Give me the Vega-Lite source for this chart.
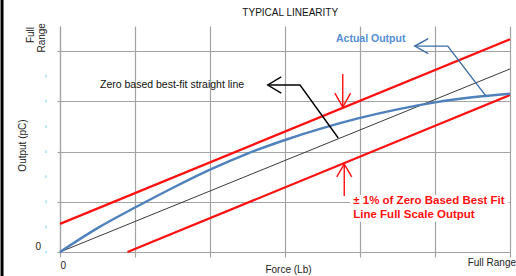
{
  "$schema": "https://vega.github.io/schema/vega-lite/v6.json",
  "width": 450,
  "height": 226,
  "autosize": "none",
  "padding": {"left": 60, "top": 26, "right": 6, "bottom": 24},
  "background": "white",
  "config": {"view": {"stroke": null}, "font": "Liberation Sans"},
  "datasets": {
    "lines": [
      {"series": "upper", "x": 0, "y": 1.12},
      {"series": "upper", "x": 6, "y": 8.47},
      {"series": "lower", "x": 0.9, "y": 0},
      {"series": "lower", "x": 6, "y": 6.25},
      {"series": "zero", "x": 0, "y": 0},
      {"series": "zero", "x": 6, "y": 7.29},
      {"series": "actual", "x": 0, "y": 0},
      {"series": "actual", "x": 0.5, "y": 0.95},
      {"series": "actual", "x": 1, "y": 1.77},
      {"series": "actual", "x": 1.5, "y": 2.55},
      {"series": "actual", "x": 2, "y": 3.28},
      {"series": "actual", "x": 2.5, "y": 3.92},
      {"series": "actual", "x": 3, "y": 4.46},
      {"series": "actual", "x": 3.5, "y": 4.93},
      {"series": "actual", "x": 4, "y": 5.34},
      {"series": "actual", "x": 4.5, "y": 5.68},
      {"series": "actual", "x": 5, "y": 5.96},
      {"series": "actual", "x": 5.5, "y": 6.16},
      {"series": "actual", "x": 6, "y": 6.3}
    ],
    "arrows": [
      {"arrow": "zero", "seg": "z1", "o": 1, "x": 2.77, "y": 6.65},
      {"arrow": "zero", "seg": "z1", "o": 2, "x": 3.2, "y": 6.65},
      {"arrow": "zero", "seg": "z1", "o": 3, "x": 3.71, "y": 4.54},
      {"arrow": "zero", "seg": "z2", "o": 1, "x": 2.95, "y": 6.97},
      {"arrow": "zero", "seg": "z2", "o": 2, "x": 2.77, "y": 6.65},
      {"arrow": "zero", "seg": "z2", "o": 3, "x": 2.95, "y": 6.33},
      {"arrow": "actual", "seg": "a1", "o": 1, "x": 4.73, "y": 8.2},
      {"arrow": "actual", "seg": "a1", "o": 2, "x": 5.17, "y": 8.2},
      {"arrow": "actual", "seg": "a1", "o": 3, "x": 5.68, "y": 6.21},
      {"arrow": "actual", "seg": "a2", "o": 1, "x": 4.91, "y": 8.5},
      {"arrow": "actual", "seg": "a2", "o": 2, "x": 4.73, "y": 8.2},
      {"arrow": "actual", "seg": "a2", "o": 3, "x": 4.91, "y": 7.9},
      {"arrow": "band", "seg": "d1", "o": 1, "x": 3.77, "y": 7.09},
      {"arrow": "band", "seg": "d1", "o": 2, "x": 3.77, "y": 5.77},
      {"arrow": "band", "seg": "d2", "o": 1, "x": 3.665, "y": 6.33},
      {"arrow": "band", "seg": "d2", "o": 2, "x": 3.77, "y": 5.77},
      {"arrow": "band", "seg": "d2", "o": 3, "x": 3.875, "y": 6.33},
      {"arrow": "band", "seg": "u1", "o": 1, "x": 3.79, "y": 2.23},
      {"arrow": "band", "seg": "u1", "o": 2, "x": 3.79, "y": 3.5},
      {"arrow": "band", "seg": "u2", "o": 1, "x": 3.69, "y": 2.99},
      {"arrow": "band", "seg": "u2", "o": 2, "x": 3.79, "y": 3.5},
      {"arrow": "band", "seg": "u2", "o": 3, "x": 3.89, "y": 2.99}
    ],
    "labels": [
      {"kind": "title", "text": "TYPICAL LINEARITY", "x": 3.07, "y": 9.52},
      {"kind": "note", "text": "Zero based best-fit straight line", "x": 0.533, "y": 6.65},
      {"kind": "actual", "text": "Actual Output", "x": 3.68, "y": 8.48},
      {"kind": "band", "text": "± 1% of Zero Based Best Fit", "x": 3.91, "y": 2.03},
      {"kind": "band", "text": "Line Full Scale Output", "x": 3.91, "y": 1.47},
      {"kind": "yzero", "text": "0", "x": -0.29, "y": 0.2},
      {"kind": "xfull", "text": "Full Range", "x": 6.08, "y": -0.44},
      {"kind": "yfull", "text": "Full", "x": -0.387, "y": 8.64},
      {"kind": "yfull", "text": "Range", "x": -0.24, "y": 8.53}
    ],
    "box": [{"x": 3.87, "x2": 5.98, "y": 2.27, "y2": 1.2}],
    "frame": [{"x": -0.773, "y": 10.05, "y2": -0.96}],
    "yticks": [
      {"x": -0.187, "y": 0}, {"x": -0.187, "y": 1}, {"x": -0.187, "y": 2}, {"x": -0.187, "y": 3},
      {"x": -0.187, "y": 4}, {"x": -0.187, "y": 5}, {"x": -0.187, "y": 6}, {"x": -0.187, "y": 7}
    ]
  },
  "layer": [
    {
      "data": {"name": "lines"},
      "transform": [{"filter": "datum.series == 'zero'"}],
      "mark": {"type": "line", "color": "#3a3a3a", "strokeWidth": 1},
      "encoding": {
        "x": {"field": "x", "type": "quantitative", "scale": {"domain": [0, 6], "nice": false, "zero": false},
          "axis": {"values": [0, 1, 2, 3, 4, 5, 6], "grid": true, "gridColor": "#a3a3a3", "gridWidth": 1.2,
            "domainColor": "#a3a3a3", "domainWidth": 1.2, "tickColor": "#a3a3a3", "tickSize": 5, "tickWidth": 1.2,
            "labelExpr": "datum.value == 0 ? '0' : ''", "labelFontSize": 10, "labelColor": "#222222", "labelPadding": 3,
            "title": "Force (Lb)", "titleFontSize": 10, "titleFontWeight": "normal", "titleColor": "#222222",
            "titleX": 228, "titleY": 17, "titleBaseline": "middle"}},
        "y": {"field": "y", "type": "quantitative", "scale": {"domain": [0, 9], "nice": false},
          "axis": {"values": [0, 1, 2, 3, 4, 5, 6, 7, 8, 9], "grid": true, "gridColor": "#a3a3a3", "gridWidth": 1.2,
            "domainColor": "#a3a3a3", "domainWidth": 1.2, "tickColor": "#a3a3a3", "tickSize": 3, "tickWidth": 1.2,
            "labels": false,
            "title": "Output (pC)", "titleFontSize": 10, "titleFontWeight": "normal", "titleColor": "#222222",
            "titleX": -38, "titleY": 119, "titleBaseline": "middle", "titleAngle": 270}}
      }
    },
    {
      "data": {"name": "lines"},
      "transform": [{"filter": "datum.series == 'upper' || datum.series == 'lower'"}],
      "mark": {"type": "line", "color": "#ff1010", "strokeWidth": 2.2},
      "encoding": {
        "x": {"field": "x", "type": "quantitative"},
        "y": {"field": "y", "type": "quantitative"},
        "detail": {"field": "series"}
      }
    },
    {
      "data": {"name": "lines"},
      "transform": [{"filter": "datum.series == 'actual'"}],
      "mark": {"type": "line", "color": "#4f81bd", "strokeWidth": 2.4, "interpolate": "monotone"},
      "encoding": {
        "x": {"field": "x", "type": "quantitative"},
        "y": {"field": "y", "type": "quantitative"}
      }
    },
    {
      "data": {"name": "arrows"},
      "mark": {"type": "line", "strokeWidth": 1.4},
      "encoding": {
        "x": {"field": "x", "type": "quantitative"},
        "y": {"field": "y", "type": "quantitative"},
        "detail": {"field": "seg"},
        "order": {"field": "o"},
        "color": {"field": "arrow", "type": "nominal", "legend": null,
          "scale": {"domain": ["zero", "actual", "band"], "range": ["#000000", "#3d6ea6", "#ff1010"]}}
      }
    },
    {
      "data": {"name": "box"},
      "mark": {"type": "rect", "color": "white"},
      "encoding": {
        "x": {"field": "x", "type": "quantitative"},
        "x2": {"field": "x2"},
        "y": {"field": "y", "type": "quantitative"},
        "y2": {"field": "y2"}
      }
    },
    {
      "data": {"name": "labels"},
      "transform": [{"filter": "datum.kind == 'title'"}],
      "mark": {"type": "text", "align": "center", "baseline": "middle", "fontSize": 10, "color": "#111111"},
      "encoding": {
        "x": {"field": "x", "type": "quantitative"},
        "y": {"field": "y", "type": "quantitative"},
        "text": {"field": "text"}
      }
    },
    {
      "data": {"name": "labels"},
      "transform": [{"filter": "datum.kind == 'note'"}],
      "mark": {"type": "text", "align": "left", "baseline": "middle", "fontSize": 10.5, "color": "#111111"},
      "encoding": {
        "x": {"field": "x", "type": "quantitative"},
        "y": {"field": "y", "type": "quantitative"},
        "text": {"field": "text"}
      }
    },
    {
      "data": {"name": "labels"},
      "transform": [{"filter": "datum.kind == 'actual'"}],
      "mark": {"type": "text", "align": "left", "baseline": "middle", "fontSize": 10.5, "fontWeight": "bold", "color": "#558ed5"},
      "encoding": {
        "x": {"field": "x", "type": "quantitative"},
        "y": {"field": "y", "type": "quantitative"},
        "text": {"field": "text"}
      }
    },
    {
      "data": {"name": "labels"},
      "transform": [{"filter": "datum.kind == 'band'"}],
      "mark": {"type": "text", "align": "left", "baseline": "middle", "fontSize": 11.5, "fontWeight": "bold", "color": "#ff1010"},
      "encoding": {
        "x": {"field": "x", "type": "quantitative"},
        "y": {"field": "y", "type": "quantitative"},
        "text": {"field": "text"}
      }
    },
    {
      "data": {"name": "labels"},
      "transform": [{"filter": "datum.kind == 'yzero'"}],
      "mark": {"type": "text", "align": "center", "baseline": "middle", "fontSize": 10, "color": "#222222"},
      "encoding": {
        "x": {"field": "x", "type": "quantitative"},
        "y": {"field": "y", "type": "quantitative"},
        "text": {"field": "text"}
      }
    },
    {
      "data": {"name": "labels"},
      "transform": [{"filter": "datum.kind == 'xfull'"}],
      "mark": {"type": "text", "align": "right", "baseline": "middle", "fontSize": 10, "color": "#222222"},
      "encoding": {
        "x": {"field": "x", "type": "quantitative"},
        "y": {"field": "y", "type": "quantitative"},
        "text": {"field": "text"}
      }
    },
    {
      "data": {"name": "labels"},
      "transform": [{"filter": "datum.kind == 'yfull'"}],
      "mark": {"type": "text", "align": "center", "baseline": "middle", "fontSize": 10, "angle": 270, "color": "#222222"},
      "encoding": {
        "x": {"field": "x", "type": "quantitative"},
        "y": {"field": "y", "type": "quantitative"},
        "text": {"field": "text"}
      }
    },
    {
      "data": {"name": "yticks"},
      "mark": {"type": "tick", "orient": "vertical", "size": 3, "thickness": 1, "color": "#4fc3f7"},
      "encoding": {
        "x": {"field": "x", "type": "quantitative"},
        "y": {"field": "y", "type": "quantitative"}
      }
    },
    {
      "data": {"name": "frame"},
      "mark": {"type": "rule", "color": "#000000", "strokeWidth": 3},
      "encoding": {
        "x": {"field": "x", "type": "quantitative"},
        "y": {"field": "y", "type": "quantitative"},
        "y2": {"field": "y2"}
      }
    }
  ]
}
